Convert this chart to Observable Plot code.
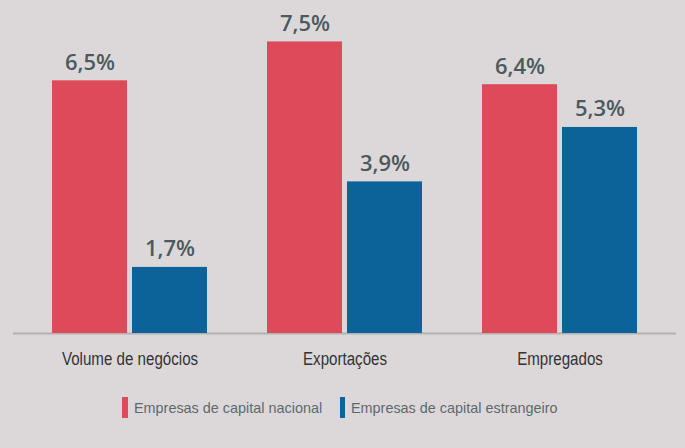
<!DOCTYPE html>
<html>
<head>
<meta charset="utf-8">
<script src="https://cdn.jsdelivr.net/npm/d3@7"></script>
<script src="https://cdn.jsdelivr.net/npm/@observablehq/plot@0.6"></script>
<style>
  html, body { margin: 0; padding: 0; background: #dcd8d9; width: 685px; height: 448px; overflow: hidden; }
  #chart svg { display: block; }
  .legend { display: flex; align-items: center; padding-left: 122px; margin-top: 16px; height: 22px;
    font-family: "Liberation Sans", Arial, sans-serif; font-size: 15px; color: #5d6a6d; }
  .legend .item { display: flex; align-items: center; margin-right: 18px; }
  .legend .sw { display: inline-block; width: 5.5px; height: 21px; margin-right: 6px; }
  .legend .lbl { display: inline-block; white-space: nowrap; overflow: visible; }
  .legend .lbl span { display: inline-block; transform-origin: 0 50%; white-space: nowrap; }
</style>
</head>
<body>
<div id="chart"></div>
<script>
const categories = ["Volume de negócios", "Exportações", "Empregados"];
const series = ["Empresas de capital nacional", "Empresas de capital estrangeiro"];
const nacional = [6.5, 7.5, 6.4];
const estrangeiro = [1.7, 3.9, 5.3];
const colors = ["#de4a5a", "#0b6399"];

const data = [];
categories.forEach((c, i) => {
  data.push({category: c, series: series[0], value: nacional[i]});
  data.push({category: c, series: series[1], value: estrangeiro[i]});
});
const fmt = v => v.toFixed(1).replace(".", ",") + "%";
const ruleStyle = {stroke: "#b2b0b0", strokeWidth: 2};

const chart = Plot.plot({
  width: 685,
  height: 380,
  marginTop: 22,
  marginBottom: 47,
  marginLeft: 21,
  marginRight: 18,
  style: {background: "transparent", fontFamily: "\"Liberation Sans\", Arial, sans-serif"},
  fx: {domain: categories, padding: 0, label: null, axis: null},
  x: {domain: series, axis: null, paddingInner: 0.0617, paddingOuter: 0.361},
  y: {domain: [0, 8], axis: null},
  color: {domain: series, range: colors},
  marks: [
    Plot.ruleY([{c: categories[0], y: 0}], {fx: "c", y: "y", ...ruleStyle, insetLeft: -9}),
    Plot.ruleY([{c: categories[1], y: 0}], {fx: "c", y: "y", ...ruleStyle}),
    Plot.ruleY([{c: categories[2], y: 0}], {fx: "c", y: "y", ...ruleStyle, insetRight: -9}),
    Plot.barY(data, {fx: "category", x: "series", y: "value", fill: "series"}),
    Plot.text(data, {fx: "category", x: "series", y: "value", text: d => fmt(d.value),
      lineAnchor: "bottom", dy: -11, fontSize: 22, fontWeight: 600, fill: "#4b5a5e",
      fontFamily: "\"Open Sans\", sans-serif"}),
    Plot.axisFx({anchor: "bottom", tickSize: 0, tickPadding: 19, fontSize: 18, fill: "#333", label: null})
  ]
});
document.getElementById("chart").appendChild(chart);

// slightly condense the axis labels (narrow typeface look)
chart.querySelectorAll('g[aria-label="fx-axis tick label"] text').forEach(t => {
  const w = t.getComputedTextLength();
  t.setAttribute("textLength", w * 0.84);
  t.setAttribute("lengthAdjust", "spacingAndGlyphs");
});

const legend = document.createElement("div");
legend.className = "legend";
document.body.appendChild(legend);
series.forEach((s, i) => {
  const item = document.createElement("span");
  item.className = "item";
  const sw = document.createElement("span");
  sw.className = "sw";
  sw.style.background = colors[i];
  const lbl = document.createElement("span");
  lbl.className = "lbl";
  const inner = document.createElement("span");
  inner.textContent = s;
  lbl.appendChild(inner);
  item.appendChild(sw);
  item.appendChild(lbl);
  legend.appendChild(item);
  const w = inner.getBoundingClientRect().width;
  const k = 0.96;
  inner.style.transform = `scaleX(${k})`;
  lbl.style.width = (w * k) + "px";
});
</script>
</body>
</html>
